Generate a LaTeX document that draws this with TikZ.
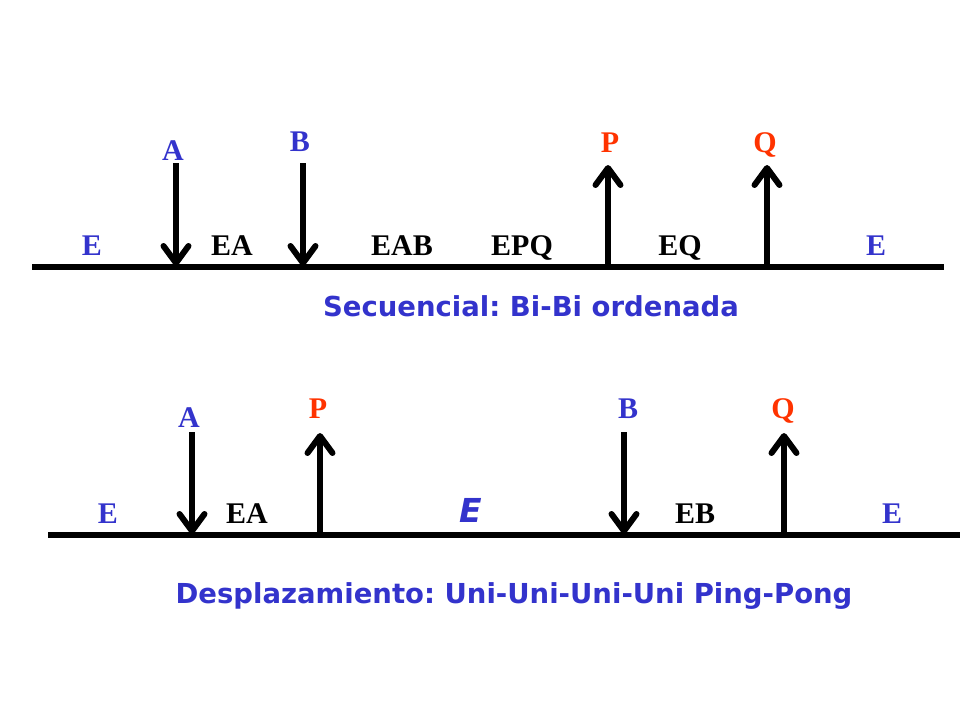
\documentclass[tikz,border=0pt]{standalone}
\usepackage{fontspec}
\setmainfont{Liberation Serif}
\newfontfamily\capfont{DejaVu Sans}
\usetikzlibrary{arrows.meta,positioning}
\definecolor{subsblue}{RGB}{51,51,204}
\definecolor{prodred}{RGB}{255,51,0}
\frenchspacing

\begin{document}
\begin{tikzpicture}[x=1pt,y=-1pt,line width=6pt,
                    >={Straight Barb[length=17pt,width=25pt,line width=6pt,round]}]
	\tikzstyle{species}=[font=\fontsize{30}{30}\selectfont\bfseries,inner sep=0pt,anchor=base]
	\tikzstyle{subs}=[species,text=subsblue]
	\tikzstyle{prod}=[species,text=prodred]
	\tikzstyle{caption}=[font=\fontsize{27.5}{27.5}\capfont\bfseries,text=subsblue,inner sep=0pt,anchor=base]

	\useasboundingbox (0,0) rectangle (960,720);

	% secuencial
	\coordinate (w1) at (32,267);
	\coordinate (e1) at (944,267);
	\coordinate (a1t) at (176,163);  \coordinate (a1b) at (176,266);
	\coordinate (b1t) at (303,163);  \coordinate (b1b) at (303,266);
	\coordinate (p1t) at (608,165);  \coordinate (p1b) at (608,267);
	\coordinate (q1t) at (767,165);  \coordinate (q1b) at (767,267);

	\draw (w1) -- (e1);
	\path (a1t) edge[->] (a1b)
	      (b1t) edge[->] (b1b)
	      (p1b) edge[->] (p1t)
	      (q1b) edge[->] (q1t);

	\node[subs]    (A1)   at (173,160) {A};
	\node[subs]    (B1)   at (300,151) {B};
	\node[prod]    (P1)   at (610,152) {P};
	\node[prod]    (Q1)   at (765,152) {Q};
	\node[subs]    (E1)   at (92,255)  {E};
	\node[species] (EA1)  at (232,255) {EA};
	\node[species] (EAB1) at (402,255) {EAB};
	\node[species] (EPQ1) at (522,255) {EPQ};
	\node[species] (EQ1)  at (680,255) {EQ};
	\node[subs]    (E2)   at (876,255) {E};
	\node[caption] (sec)  at (531,316) {Secuencial: Bi-Bi ordenada};

	% ping-pong
	\coordinate (w2) at (48,535);
	\coordinate (e2) at (960,535);
	\coordinate (a2t) at (192,432);  \coordinate (a2b) at (192,534);
	\coordinate (p2t) at (320,433);  \coordinate (p2b) at (320,535);
	\coordinate (b2t) at (624,432);  \coordinate (b2b) at (624,534);
	\coordinate (q2t) at (784,433);  \coordinate (q2b) at (784,535);

	\draw (w2) -- (e2);
	\path (a2t) edge[->] (a2b)
	      (p2b) edge[->] (p2t)
	      (b2t) edge[->] (b2b)
	      (q2b) edge[->] (q2t);

	\node[subs]    (A2)   at (189,427) {A};
	\node[prod]    (P2)   at (318,418) {P};
	\node[subs]    (B2)   at (628,418) {B};
	\node[prod]    (Q2)   at (783,418) {Q};
	\node[subs]    (E3)   at (108,523) {E};
	\node[species] (EA2)  at (247,523) {EA};
	\node[caption,font=\fontsize{33}{33}\capfont\bfseries\itshape] (Eprime) at (471,522) {E};
	\node[species] (EB2)  at (695,523) {EB};
	\node[subs]    (E4)   at (892,523) {E};
	\node[caption] (des)  at (514,603) {Desplazamiento: Uni-Uni-Uni-Uni Ping-Pong};
\end{tikzpicture}
\end{document}
